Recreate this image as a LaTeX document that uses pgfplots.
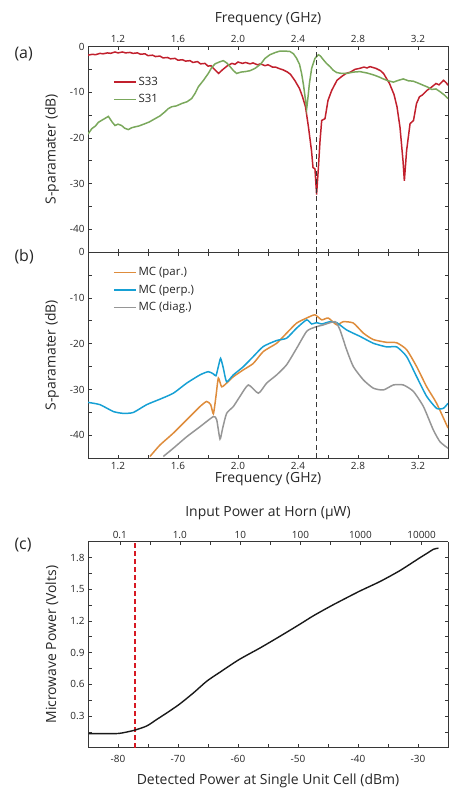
\documentclass[border=0pt]{standalone}
\usepackage{pgfplots}
\pgfplotsset{compat=1.18}
\usepackage{fontspec}
\setmainfont{Open Sans}
\definecolor{cred}{RGB}{193,32,45}
\definecolor{cdash}{RGB}{215,25,35}
\definecolor{cgreen}{RGB}{122,168,92}
\definecolor{corange}{RGB}{222,140,60}
\definecolor{cblue}{RGB}{22,160,212}
\definecolor{cgray}{RGB}{150,150,150}
\definecolor{caxis}{RGB}{55,55,55}
\pgfplotsset{
  base/.style={
    scale only axis, width=360bp,
    axis line style={caxis, line width=0.9pt},
    tick style={caxis, line width=0.6pt},
    tick align=inside,
    major tick length=3.5bp, minor tick length=3.5bp,
    /pgf/number format/assume math mode=true,
    tick label style={font=\fontsize{10}{12}\selectfont, text=black!85},
    label style={font=\fontsize{14}{16}\selectfont, text=black!85},
    legend style={draw=none, fill=none, font=\fontsize{11.5}{13}\selectfont, text=black!85,
      anchor=north west, row sep=3.5bp, inner sep=0pt},
    legend cell align=left,
    legend image code/.code={\draw[##1] (0bp,0bp) -- (22bp,0bp);},
    every axis y label/.append style={at={(axis description cs:-0.1,0.5)}, anchor=center},
  },
  freq/.style={base,
    xmin=1, xmax=3.4, ymin=-45, ymax=0,
    xtick={1.2,1.6,2.0,2.4,2.8,3.2},
    minor xtick={1.0,1.4,1.8,2.2,2.6,3.0,3.4},
    xticklabels={1.2,1.6,2.0,2.4,2.8,3.2},
    ytick={0,-10,-20,-30,-40},
    minor ytick={-5,-15,-25,-35,-45},
    ylabel={S-paramater (dB)},
  },
}
\begin{document}
\begin{tikzpicture}
\useasboundingbox (0bp,0bp) rectangle (449bp,-788bp);

% ---------------- panel (a)
\begin{axis}[freq, at={(88bp,-252bp)}, anchor=south west, height=205.5bp,
  xticklabel pos=upper, xlabel={Frequency (GHz)},
  every axis x label/.append style={at={(axis description cs:0.5,1.134)}, anchor=center},
  legend style={at={(axis description cs:0.069,0.861)}},
]
\addplot[cred, line width=1.5pt] coordinates {
(1.00,-1.9) (1.03,-1.7) (1.05,-1.8) (1.08,-1.5) (1.10,-1.6) (1.13,-1.4) (1.15,-1.5)
(1.18,-1.2) (1.20,-1.4) (1.23,-1.2) (1.25,-1.4) (1.28,-1.3) (1.30,-1.5) (1.33,-1.4)
(1.35,-1.7) (1.38,-1.6) (1.40,-2.0) (1.43,-1.9) (1.45,-2.2) (1.48,-2.1) (1.50,-2.5)
(1.53,-2.4) (1.55,-2.7) (1.58,-2.6) (1.60,-3.0) (1.63,-2.9) (1.65,-3.2) (1.68,-3.1)
(1.70,-3.5) (1.73,-3.3) (1.75,-3.8) (1.78,-3.7) (1.80,-4.3) (1.82,-4.2) (1.84,-4.9)
(1.87,-5.9) (1.90,-5.0) (1.93,-4.2) (1.96,-3.7) (1.98,-3.9) (2.00,-3.4) (2.03,-3.7)
(2.05,-3.5) (2.08,-3.8) (2.10,-3.6) (2.13,-4.0) (2.15,-3.8) (2.18,-4.2) (2.20,-4.0)
(2.23,-4.5) (2.25,-4.5) (2.28,-4.9) (2.30,-5.1) (2.33,-5.6) (2.35,-6.1) (2.38,-7.5)
(2.41,-9.2) (2.43,-11.0) (2.45,-13.2) (2.47,-17.7) (2.49,-22.8) (2.50,-26.5)
(2.513,-26.8) (2.524,-32.4) (2.536,-26.5) (2.547,-20.6) (2.558,-16.2) (2.58,-15.8)
(2.60,-11.8) (2.625,-9.6) (2.66,-7.4) (2.69,-6.6) (2.72,-5.9) (2.75,-5.6) (2.78,-5.0)
(2.81,-4.8) (2.84,-4.5) (2.86,-4.7) (2.88,-4.4) (2.90,-4.6) (2.92,-4.8) (2.95,-5.3)
(2.97,-5.9) (3.01,-8.1) (3.04,-10.5) (3.06,-13.2) (3.08,-17.7) (3.10,-25.0)
(3.109,-29.4) (3.124,-22.8) (3.147,-16.9) (3.17,-16.2) (3.19,-12.5) (3.21,-11.0)
(3.23,-10.6) (3.26,-9.6) (3.29,-8.9) (3.32,-8.1) (3.34,-8.4) (3.37,-7.4) (3.39,-8.0)
(3.40,-8.5)
};
\addlegendentry{S33}
\addplot[cgreen, line width=1.5pt] coordinates {
(1.00,-19.2) (1.025,-18.0) (1.05,-17.4) (1.069,-16.6) (1.10,-16.0) (1.136,-15.3)
(1.16,-16.5) (1.18,-17.3) (1.20,-17.0) (1.224,-17.3) (1.245,-17.9) (1.269,-18.2)
(1.29,-17.8) (1.313,-17.6) (1.34,-17.4) (1.38,-16.9) (1.41,-16.5) (1.447,-15.8)
(1.48,-15.2) (1.513,-14.3) (1.535,-13.6) (1.558,-13.2) (1.59,-13.0) (1.624,-12.5)
(1.66,-12.1) (1.691,-11.4) (1.715,-10.2) (1.736,-8.8) (1.77,-7.4) (1.802,-5.9)
(1.825,-4.6) (1.847,-3.8) (1.875,-3.4) (1.902,-3.1) (1.925,-3.6) (1.947,-4.4)
(1.97,-5.3) (1.991,-5.9) (2.02,-5.6) (2.047,-5.5) (2.08,-5.3) (2.113,-4.8)
(2.15,-3.9) (2.18,-2.6) (2.213,-1.8) (2.25,-1.3) (2.28,-1.0) (2.315,-1.0)
(2.347,-1.1) (2.37,-1.6) (2.391,-2.6) (2.41,-3.9) (2.424,-5.9) (2.437,-8.5)
(2.447,-11.0) (2.458,-13.6) (2.467,-11.0) (2.476,-8.1) (2.491,-4.8) (2.513,-2.6)
(2.536,-1.8) (2.55,-2.1) (2.569,-2.9) (2.59,-3.7) (2.613,-4.4) (2.635,-5.2)
(2.658,-5.7) (2.69,-5.9) (2.724,-5.9) (2.77,-5.6) (2.813,-5.5) (2.86,-5.8)
(2.902,-6.2) (2.935,-6.6) (2.969,-7.1) (3.00,-7.5) (3.036,-7.8) (3.07,-7.4)
(3.102,-7.1) (3.135,-7.5) (3.169,-7.6) (3.20,-8.0) (3.236,-8.5) (3.265,-8.9)
(3.291,-9.4) (3.32,-9.3) (3.347,-9.9) (3.375,-10.6) (3.40,-11.4)
};
\addlegendentry{S31}
\addplot[caxis, line width=0.7pt, dash pattern=on 5bp off 3.5bp, forget plot]
  coordinates {(2.52,-45) (2.52,0)};
\end{axis}

% ---------------- panel (b)
\begin{axis}[freq, at={(88bp,-458.3bp)}, anchor=south west, height=206.3bp,
  xlabel={Frequency (GHz)},
  every axis x label/.append style={at={(axis description cs:0.5,-0.1)}, anchor=center},
  legend style={at={(axis description cs:0.069,0.935)}},
]
\addplot[corange, line width=1.5pt, smooth, tension=0.35] coordinates {
(1.413,-44.6) (1.48,-42.1) (1.569,-39.5) (1.658,-36.6) (1.747,-33.7) (1.791,-32.6)
(1.818,-33.3) (1.836,-35.3) (1.853,-31.5) (1.869,-27.5) (1.891,-29.4) (1.924,-28.6)
(1.969,-27.2) (2.036,-25.7) (2.102,-24.3) (2.169,-21.7) (2.258,-19.9) (2.324,-17.7)
(2.391,-15.5) (2.458,-14.4) (2.513,-13.7) (2.558,-14.8) (2.602,-14.4) (2.658,-15.9)
(2.702,-15.2) (2.769,-15.5) (2.836,-17.7) (2.902,-19.1) (2.991,-19.7) (3.058,-19.8)
(3.124,-21.3) (3.191,-25.0) (3.258,-29.4) (3.324,-33.0) (3.40,-38.4)
};
\addlegendentry{MC (par.)}
\addplot[cblue, line width=1.5pt, smooth, tension=0.35] coordinates {
(1.00,-32.8) (1.08,-33.3) (1.169,-34.8) (1.236,-35.2) (1.302,-35.0) (1.391,-33.3)
(1.48,-32.1) (1.569,-30.8) (1.658,-28.6) (1.747,-26.8) (1.802,-26.1) (1.836,-26.6)
(1.853,-27.0) (1.869,-25.0) (1.884,-23.2) (1.902,-25.3) (1.924,-28.3) (1.969,-26.8)
(2.036,-25.0) (2.102,-22.8) (2.169,-20.6) (2.258,-19.3) (2.324,-18.8) (2.391,-16.6)
(2.458,-14.8) (2.491,-15.7) (2.524,-15.4) (2.558,-15.7) (2.613,-15.2) (2.658,-15.4)
(2.724,-17.0) (2.813,-18.4) (2.902,-19.9) (2.991,-20.7) (3.058,-20.7) (3.124,-22.8)
(3.191,-27.2) (3.258,-31.5) (3.324,-34.1) (3.369,-34.1) (3.40,-33.0)
};
\addlegendentry{MC (perp.)}
\addplot[cgray, line width=1.5pt, smooth, tension=0.35] coordinates {
(1.502,-44.6) (1.569,-42.8) (1.658,-40.3) (1.747,-38.1) (1.836,-35.9) (1.858,-36.6)
(1.88,-40.8) (1.898,-38.4) (1.924,-35.2) (1.969,-33.7) (2.013,-31.5) (2.069,-29.0)
(2.136,-30.8) (2.191,-28.6) (2.258,-26.8) (2.324,-24.6) (2.391,-21.0) (2.458,-17.3)
(2.513,-16.4) (2.569,-15.9) (2.647,-15.2) (2.68,-17.0) (2.724,-21.3) (2.769,-25.0)
(2.836,-27.9) (2.902,-29.7) (2.969,-30.1) (3.036,-29.0) (3.102,-29.0) (3.169,-30.4)
(3.236,-33.7) (3.302,-38.8) (3.347,-41.4) (3.40,-42.8)
};
\addlegendentry{MC (diag.)}
\addplot[caxis, line width=0.7pt, dash pattern=on 5bp off 3.5bp, forget plot]
  coordinates {(2.52,-45) (2.52,0)};
\end{axis}

% ---------------- panel (c)
\begin{axis}[base, at={(88bp,-747.7bp)}, anchor=south west, height=206bp,
  xmin=-85, xmax=-25, ymin=0, ymax=1.95,
  xtick={-80,-70,-60,-50,-40,-30}, minor xtick={-75,-65,-55,-45,-35,-25},
  ytick={0.3,0.6,0.9,1.2,1.5,1.8}, minor ytick={0.15,0.45,0.75,1.05,1.35,1.65},
  yticklabel style={/pgf/number format/.cd, fixed, fixed zerofill, precision=1},
  xticklabel style={yshift=-4bp},
  axis x line*=bottom, axis y line*=box,
  xlabel={Detected Power at Single Unit Cell (dBm)},
  every axis x label/.append style={at={(axis description cs:0.5,-0.162)}, anchor=center},
  ylabel={Microwave Power (Volts)},
]
\addplot[color=cdash, draw=cdash, line width=2pt, dash pattern=on 5bp off 3bp, forget plot]
  coordinates {(-77.1,0) (-77.1,1.95)};
\addplot[black!90, line width=1.4pt, smooth, tension=0.4] coordinates {
(-84.9,0.134) (-80.2,0.134) (-78.5,0.149) (-77.1,0.168) (-75.2,0.206) (-73.5,0.269)
(-71.8,0.332) (-69.8,0.41) (-67.4,0.52) (-65.2,0.63) (-63.0,0.715) (-59.8,0.835)
(-56.3,0.945) (-53.0,1.055) (-49.8,1.165) (-47.4,1.25) (-44.1,1.354) (-39.8,1.48)
(-36.3,1.574) (-33.0,1.677) (-29.8,1.794) (-28.5,1.84) (-27.4,1.879) (-26.6,1.889)
};
\end{axis}
\begin{axis}[base, at={(88bp,-747.7bp)}, anchor=south west, height=206bp,
  xmin=-85, xmax=-25, ymin=0, ymax=1.95,
  axis x line*=top, axis y line=none,
  xtick={-79.7,-69.7,-59.6,-49.6,-39.6,-29.4},
  xticklabels={0.1,1.0,10,100,1000,10000},
  minor xtick={-74.7,-64.7,-54.6,-44.6,-34.6},
  xlabel={Input Power at Horn (µW)},
  every axis x label/.append style={at={(axis description cs:0.5,1.139)}, anchor=center},
]
\addplot[draw=none, forget plot] coordinates {(-80,1)};
\end{axis}

% panel labels
\node[anchor=west, font=\fontsize{16}{18}\selectfont, text=black!85] at (11bp,-54bp) {(a)};
\node[anchor=west, font=\fontsize{16}{18}\selectfont, text=black!85] at (11bp,-257bp) {(b)};
\node[anchor=west, font=\fontsize{16}{18}\selectfont, text=black!85] at (11bp,-545bp) {(c)};
\end{tikzpicture}
\end{document}
